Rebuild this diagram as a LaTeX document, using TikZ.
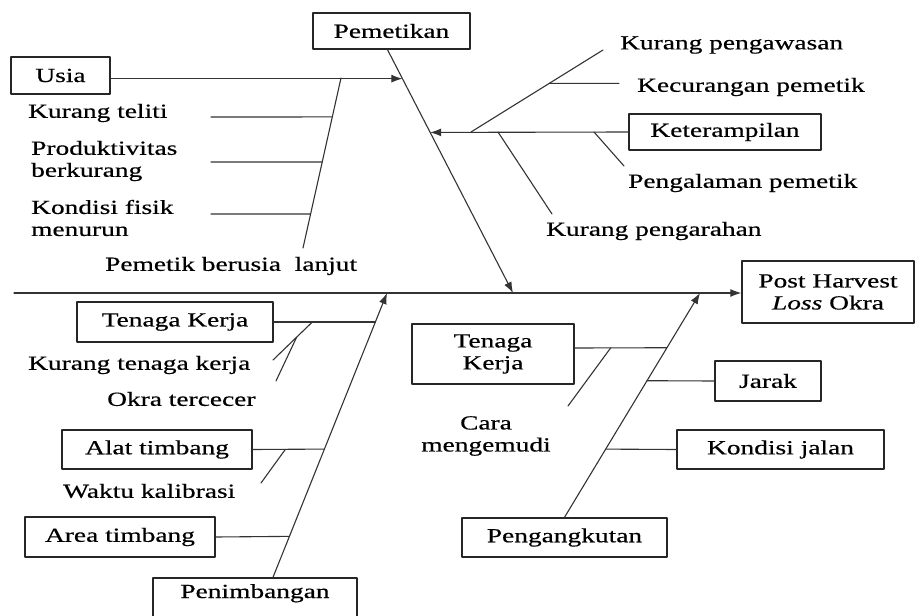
\documentclass[tikz,border=0pt]{standalone}
\usepackage{fontspec}
\setmainfont{Liberation Serif}[FakeStretch=1.37, FakeBold=0.5]
\usepackage{tikz}
\usetikzlibrary{arrows.meta,calc}

\begin{document}
\begin{tikzpicture}[
  x=1pt, y=-1pt,
  >={Latex[length=11pt,width=8pt]},
  line cap=round,
  line join=round,
  every node/.style={font=\fontsize{20}{22}\selectfont, inner sep=0pt},
  bone/.style={line width=1.1pt, draw=black!80},
  box/.style={draw=black!85, line width=1.4pt, rectangle, align=center},
  lbl/.style={anchor=west, align=left}
]
  \useasboundingbox (0,0) rectangle (916,616);
  \clip (0,0) rectangle (916,616);

  % Head and spine
  \node[box, minimum width=172, minimum height=62] (head) at (828,292) {Post Harvest\\\textit{Loss} Okra};
  \coordinate (tail) at (14,293);
  \draw[bone, ->] (tail) -- (tail -| head.west);

  % Pemetikan
  \node[box, minimum width=157, minimum height=36] (pem) at (391.5,31) {Pemetikan};
  \coordinate (pemA) at ($(pem.south)+(-4,0)$);
  \coordinate (pemB) at (513,293);
  \draw[bone, ->] (pemA) -- (pemB);

  \node[box, minimum width=99, minimum height=37] (usia) at (60.5,75.5) {Usia};
  \coordinate (usiaEnd) at ($(pemA)!0.119!(pemB)$);
  \draw[bone, ->] (usia.east |- usiaEnd) -- (usiaEnd);
  \coordinate (ageA) at (341,78);
  \coordinate (ageB) at (303,248);
  \draw[bone] (ageA) -- (ageB);
  \node[lbl] (lanjut) at (105,266) {Pemetik berusia\ \ lanjut};
  \node[lbl] (teliti) at (28,113) {Kurang teliti};
  \node[lbl] (produktif) at (31,161) {Produktivitas\\berkurang};
  \node[lbl] (fisik) at (31,218) {Kondisi fisik\\menurun};
  \foreach \t/\y/\n in {0.229/117/a, 0.494/162/b, 0.8/214/c}{
    \coordinate (age\n) at ($(ageA)!\t!(ageB)$);
    \coordinate (stub\n) at (211,\y);
    \draw[bone] (stub\n) -- (age\n);
  }

  \node[box, minimum width=192, minimum height=36] (ket) at (725,132) {Keterampilan};
  \coordinate (ketEnd) at ($(pemA)!0.340!(pemB)$);
  \draw[bone, ->] (ket.west) -- (ketEnd);
  \coordinate (supA) at (471,132);
  \coordinate (supB) at (603,50);
  \draw[bone] (supA) -- (supB);
  \coordinate (curA) at ($(supA)!0.593!(supB)$);
  \coordinate (curB) at (619,83.4);
  \draw[bone] (curA) -- (curB);
  \coordinate (expA) at (594,132);
  \coordinate (expB) at (624,166);
  \draw[bone] (expA) -- (expB);
  \coordinate (dirA) at (498,132);
  \coordinate (dirB) at (552,214);
  \draw[bone] (dirA) -- (dirB);
  \node[lbl] (awas) at (620,45) {Kurang pengawasan};
  \node[lbl] (curang) at (637,87) {Kecurangan pemetik};
  \node[lbl] (alaman) at (628,183) {Pengalaman pemetik};
  \node[lbl] (arah) at (546,231) {Kurang pengarahan};

  % Penimbangan
  \node[box, anchor=base, minimum width=204, text height=20pt, text depth=40pt] (tim) at (255,598) {Penimbangan};
  \coordinate (timA) at ($(tim.north)+(18,0)$);
  \coordinate (timB) at (387,293);
  \draw[bone, ->] (timA) -- (timB);

  \node[box, minimum width=196, minimum height=40] (tkL) at (175,322) {Tenaga Kerja};
  \coordinate (tkLEnd) at ($(timA)!0.898!(timB)$);
  \draw[bone] (tkL.east) -- (tkLEnd);
  \coordinate (kurA) at (273,360);
  \coordinate (kurB) at ($(tkL.east)!0.38!(tkLEnd)$);
  \draw[bone] (kurA) -- (kurB);
  \coordinate (cecA) at (276,381);
  \coordinate (cecB) at ($(kurA)!0.6!(kurB)$);
  \draw[bone] (cecA) -- (cecB);
  \node[lbl] (kurang) at (28,365) {Kurang tenaga kerja};
  \node[lbl] (cecer) at (107,399) {Okra tercecer};

  \node[box, minimum width=190, minimum height=39] (alat) at (157,449.5) {Alat timbang};
  \coordinate (alatEnd) at ($(timA)!0.451!(timB)$);
  \draw[bone] (alat.east) -- (alatEnd);
  \coordinate (kalA) at (261,483);
  \coordinate (kalB) at ($(alat.east)!0.456!(alatEnd)$);
  \draw[bone] (kalA) -- (kalB);
  \node[lbl] (kalibrasi) at (63,491) {Waktu kalibrasi};

  \node[box, minimum width=190, minimum height=40] (area) at (120,537) {Area timbang};
  \coordinate (areaEnd) at ($(timA)!0.144!(timB)$);
  \draw[bone] (area.east) -- (areaEnd);

  % Pengangkutan
  \node[box, minimum width=205, minimum height=39] (angkut) at (564.5,537.5) {Pengangkutan};
  \coordinate (angB) at (700,293);
  \draw[bone, ->] (angkut.north) -- (angB);

  \node[box, minimum width=162, minimum height=60] (tkR) at (493,354) {Tenaga\\Kerja};
  \coordinate (tkRStart) at ($(tkR.east)+(0,-6)$);
  \coordinate (tkREnd) at ($(angkut.north)!0.756!(angB)$);
  \draw[bone] (tkRStart) -- (tkREnd);
  \coordinate (mudiA) at (568,406);
  \coordinate (mudiB) at ($(tkRStart)!0.39!(tkREnd)$);
  \draw[bone] (mudiA) -- (mudiB);
  \node[align=center] (mudi) at (486,436) {Cara\\mengemudi};

  \node[box, minimum width=106, minimum height=40] (jarak) at (768,381) {Jarak};
  \coordinate (jarakEnd) at ($(angkut.north)!0.609!(angB)$);
  \draw[bone] (jarak.west) -- (jarakEnd);

  \node[box, minimum width=207, minimum height=39] (jalan) at (780.5,449.5) {Kondisi jalan};
  \coordinate (jalanEnd) at ($(angkut.north)!0.304!(angB)$);
  \draw[bone] (jalan.west) -- (jalanEnd);
\end{tikzpicture}
\end{document}
